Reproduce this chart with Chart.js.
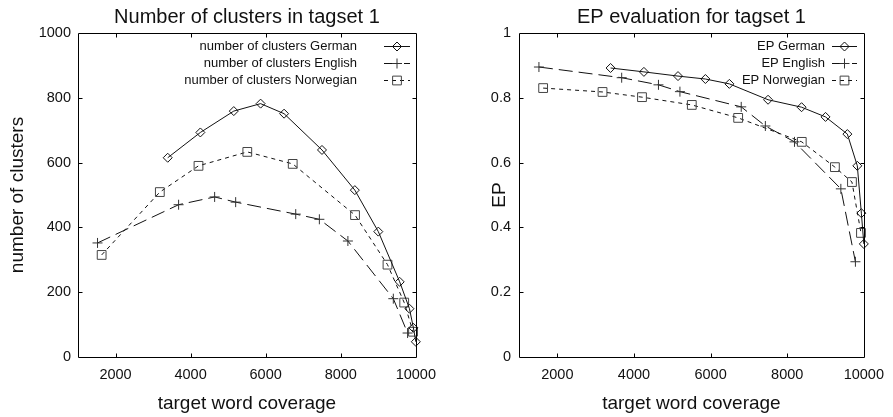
<!DOCTYPE html>
<html><head><meta charset="utf-8">
<script src="https://cdn.jsdelivr.net/npm/chart.js@4/dist/chart.umd.min.js"></script>
<style>
body{margin:0;background:#fff;width:893px;height:417px;overflow:hidden;position:relative}
#w1{position:absolute;left:0;top:0;width:445px;height:417px}
#w2{position:absolute;left:445px;top:0;width:448px;height:417px}
</style>
</head><body>
<div id="w1"><canvas id="c1" width="445" height="417"></canvas></div>
<div id="w2"><canvas id="c2" width="448" height="417"></canvas></div>
<script>
// ---- data ----
const xTickValues = [2000, 4000, 6000, 8000, 10000];
const clusterTickValues = [0, 200, 400, 600, 800, 1000];
const epTickValues = [0, 0.2, 0.4, 0.6, 0.8, 1];

const germanX = [3390, 4260, 5150, 5865, 6490, 7500, 8375, 9000, 9570, 9830, 9935, 10000];
const germanClusters = [615, 693, 759, 782, 751, 639, 515, 387, 232, 149, 90, 47];
const germanEP = [0.892, 0.880, 0.867, 0.858, 0.843, 0.794, 0.771, 0.741, 0.688, 0.590, 0.444, 0.349];

const englishX = [1520, 3680, 4640, 5200, 6800, 7430, 8190, 9400, 9780];
const englishClusters = [352, 470, 494, 478, 441, 425, 358, 180, 74];
const englishEP = [0.895, 0.862, 0.840, 0.819, 0.772, 0.713, 0.664, 0.519, 0.294];

const norwegianX = [1630, 3180, 4210, 5510, 6720, 8380, 9245, 9690, 9925];
const norwegianClusters = [315, 509, 590, 633, 596, 438, 285, 168, 78];
const norwegianEP = [0.830, 0.818, 0.802, 0.778, 0.738, 0.664, 0.586, 0.540, 0.383];

const leftTitle = 'Number of clusters in tagset 1';
const rightTitle = 'EP evaluation for tagset 1';
const xTitle = 'target word coverage';
const leftYTitle = 'number of clusters';
const rightYTitle = 'EP';
const leftLabels = ['number of clusters German', 'number of clusters English', 'number of clusters Norwegian'];
const rightLabels = ['EP German', 'EP English', 'EP Norwegian'];

// ---- rendering ----
const FONT = "'Liberation Sans', Arial, Helvetica, sans-serif";
const INK = '#111';

function pts(xs, ys) { return xs.map((x, i) => ({x: x, y: ys[i]})); }

function makeDatasets(labels, g, e, n) {
  const common = {fill: false, tension: 0, borderWidth: 1, pointBorderWidth: 1,
    backgroundColor: 'rgba(0,0,0,0)', pointBackgroundColor: 'rgba(0,0,0,0)', clip: false};
  return [
    Object.assign({}, common, {label: labels[0], data: pts(germanX, g), borderColor: INK,
      pointBorderColor: INK, pointStyle: 'rectRot', pointRadius: 4.5, borderDash: []}),
    Object.assign({}, common, {label: labels[1], data: pts(englishX, e), borderColor: INK,
      pointBorderColor: '#333', pointStyle: 'cross', pointRadius: 5, borderDash: [14, 6]}),
    Object.assign({}, common, {label: labels[2], data: pts(norwegianX, n), borderColor: INK,
      pointBorderColor: '#444', pointStyle: 'rect', pointRadius: 6.2, borderDash: [4, 4]})
  ];
}

function frameLegendPlugin(leg) {
  return {
    id: 'frameLegend',
    afterDraw(chart) {
      const ctx = chart.ctx, a = chart.chartArea;
      const sx = chart.scales.x, sy = chart.scales.y;
      ctx.save();
      ctx.strokeStyle = '#000';
      ctx.lineWidth = 1;
      ctx.setLineDash([]);
      const L = Math.round(a.left) + 0.5, R = Math.round(a.right) + 0.5;
      const T = Math.round(a.top) + 0.5, B = Math.round(a.bottom) + 0.5;
      ctx.beginPath();
      ctx.rect(L, T, R - L, B - T);
      ctx.stroke();
      const tl = 4;
      ctx.beginPath();
      sx.ticks.forEach(t => {
        const px = Math.round(sx.getPixelForValue(t.value)) + 0.5;
        if (px <= L + 1 || px >= R - 1) return;
        ctx.moveTo(px, B); ctx.lineTo(px, B - tl);
        ctx.moveTo(px, T); ctx.lineTo(px, T + tl);
      });
      sy.ticks.forEach(t => {
        const py = Math.round(sy.getPixelForValue(t.value)) + 0.5;
        if (py <= T + 1 || py >= B - 1) return;
        ctx.moveTo(L, py); ctx.lineTo(L + tl, py);
        ctx.moveTo(R, py); ctx.lineTo(R - tl, py);
      });
      ctx.stroke();
      // legend (gnuplot style: text right-aligned, sample to the right)
      ctx.font = '13px ' + FONT;
      ctx.fillStyle = INK;
      ctx.textAlign = 'right';
      ctx.textBaseline = 'middle';
      chart.data.datasets.forEach((ds, i) => {
        const y = leg.top + i * leg.step;
        ctx.fillText(ds.label, leg.textRight, y);
        ctx.strokeStyle = ds.borderColor;
        ctx.lineWidth = 1;
        ctx.setLineDash(ds.borderDash || []);
        ctx.beginPath();
        ctx.moveTo(leg.x0, Math.round(y) + 0.5);
        ctx.lineTo(leg.x1, Math.round(y) + 0.5);
        ctx.stroke();
        ctx.setLineDash([]);
        ctx.strokeStyle = ds.pointBorderColor;
        ctx.fillStyle = 'rgba(0,0,0,0)';
        Chart.helpers.drawPoint(ctx, {pointStyle: ds.pointStyle, radius: ds.pointRadius,
          rotation: 0, borderWidth: 1}, (leg.x0 + leg.x1) / 2, Math.round(y) + 0.5);
        ctx.fillStyle = INK;
      });
      ctx.restore();
    }
  };
}

function makeChart(id, o) {
  return new Chart(document.getElementById(id), {
    type: 'line',
    data: {datasets: o.datasets},
    options: {
      responsive: false,
      animation: false,
      events: [],
      layout: {padding: {left: 0, right: o.rightPad, top: 0, bottom: 0}},
      plugins: {
        legend: {display: false},
        tooltip: {enabled: false},
        title: {display: true, text: o.title, color: INK, fullSize: false,
          font: {family: FONT, size: 20, weight: 'normal'}, padding: {top: 5, bottom: 4}}
      },
      scales: {
        x: {
          type: 'linear', min: 1000, max: 10000,
          afterBuildTicks: s => { s.ticks = xTickValues.map(v => ({value: v})); },
          afterFit: s => { s.height = 60; },
          grid: {display: false, drawTicks: false},
          border: {display: false},
          ticks: {color: INK, font: {family: FONT, size: 14.5}, padding: 9, maxRotation: 0,
            autoSkip: false, callback: v => String(v)},
          title: {display: true, text: xTitle, color: INK,
            font: {family: FONT, size: 19}, padding: {top: 0, bottom: 2}}
        },
        y: {
          type: 'linear', min: o.yMin, max: o.yMax,
          afterBuildTicks: s => { s.ticks = o.yTicks.map(v => ({value: v})); },
          afterFit: s => { s.width = o.yWidth; },
          grid: {display: false, drawTicks: false},
          border: {display: false},
          ticks: {color: INK, font: {family: FONT, size: 14.5}, padding: o.yPad,
            autoSkip: false, callback: v => String(v)},
          title: {display: true, text: o.yTitle, color: INK,
            font: {family: FONT, size: 19}, padding: {top: o.yTitlePad, bottom: 0}}
        }
      }
    },
    plugins: [frameLegendPlugin(o.legend)]
  });
}

makeChart('c1', {
  datasets: makeDatasets(leftLabels, germanClusters, englishClusters, norwegianClusters),
  title: leftTitle, yTitle: leftYTitle, yMin: 0, yMax: 1000, yTicks: clusterTickValues,
  yWidth: 78, yPad: 7, yTitlePad: 6.5, rightPad: 24,
  legend: {top: 46, step: 17, textRight: 357, x0: 384, x1: 410}
});
makeChart('c2', {
  datasets: makeDatasets(rightLabels, germanEP, englishEP, norwegianEP),
  title: rightTitle, yTitle: rightYTitle, yMin: 0, yMax: 1, yTicks: epTickValues,
  yWidth: 74, yPad: 8, yTitlePad: 43.5, rightPad: 25,
  legend: {top: 46, step: 17, textRight: 380, x0: 387, x1: 412}
});
</script>
</body></html>
